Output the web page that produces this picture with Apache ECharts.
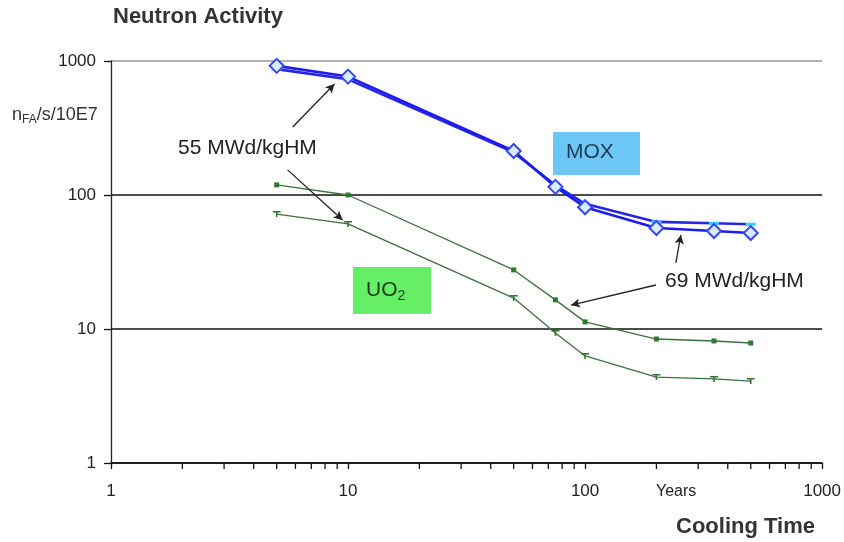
<!DOCTYPE html>
<html>
<head>
<meta charset="utf-8">
<script src="https://cdn.jsdelivr.net/npm/echarts@6/dist/echarts.min.js"></script>
<style>
html,body{margin:0;padding:0;background:#fff;}
#c{width:844px;height:542px;}
</style>
</head>
<body>
<div id="c"></div>
<script>
// ---- data ----
const years = [5, 10, 50, 75, 100, 200, 350, 500];
const moxA = [920, 765, 213, 115, 81, 56.7, 53.9, 52];      // MOX, diamonds
const moxB = [870, 730, 208, 118, 86, 63, 61.5, 60.5];      // MOX, second line
const uo2Upper = [119, 100, 27.6, 16.5, 11.3, 8.42, 8.14, 7.86];
const uo2Lower = [72.1, 60.8, 17.0, 9.34, 6.29, 4.38, 4.24, 4.09];
const minorTicks = [2,3,4,5,6,7,8,9,20,30,40,50,60,70,80,90,200,300,400,500,600,700,800,900];
const xTickLabels = ['1', '10', '100', '1000'];
const yTickLabels = ['1', '10', '100', '1000'];
// annotation arrows, in data coordinates [x, y] -> [x, y]
const arrows55 = [[[5.84, 322], [8.77, 673]], [[5.56, 154], [9.48, 65]]];
const arrows69 = [[[241.6, 31.1], [253.6, 50.3]], [[199, 21.3], [87.3, 15.1]]];

const pair = (ys) => years.map((x, i) => [x, ys[i]]);
const FONT = 'Liberation Sans, Arial, sans-serif';

const chart = echarts.init(document.getElementById('c'), null, {renderer: 'canvas'});

const arrowLines = arrows55.concat(arrows69).map(a => [{coord: a[0]}, {coord: a[1]}]);

chart.setOption({
  animation: false,
  backgroundColor: '#fff',
  grid: {left: 111, right: 21, top: 61, bottom: 79},
  xAxis: {
    type: 'log', logBase: 10, min: 1, max: 1000,
    axisLine: {show: true, lineStyle: {color: '#111', width: 1.5}},
    axisTick: {show: true, length: 6, lineStyle: {color: '#111', width: 1.3}},
    axisLabel: {
      margin: 20, fontFamily: FONT, fontSize: 17, color: '#222',
      formatter: (v) => { const s = String(Math.round(v)); return xTickLabels.indexOf(s) >= 0 ? s : ''; }
    },
    splitLine: {show: false}
  },
  yAxis: {
    type: 'log', logBase: 10, min: 1, max: 1000,
    axisLine: {show: true, lineStyle: {color: '#222', width: 1.3}},
    axisTick: {show: true, length: 7, lineStyle: {color: '#111', width: 1.3}},
    axisLabel: {
      margin: 15, fontFamily: FONT, fontSize: 17, color: '#222',
      formatter: (v) => { const s = String(Math.round(v)); return yTickLabels.indexOf(s) >= 0 ? s : ''; }
    },
    splitLine: {show: true, lineStyle: {color: ['#111', '#111', '#111', '#999'], width: 1.5}}
  },
  series: [
    {
      name: 'minor ticks', type: 'custom', silent: true, z: 5,
      data: minorTicks.map(v => [v, 1]),
      renderItem: (params, api) => {
        const p = api.coord([api.value(0), 1]);
        return {type: 'line', shape: {x1: p[0], y1: p[1], x2: p[0], y2: p[1] + 6},
                style: {stroke: '#111', lineWidth: 1.3}};
      }
    },
    {
      name: 'UO2 upper', type: 'line', data: pair(uo2Upper),
      lineStyle: {color: '#3e6f3e', width: 1.3},
      symbol: 'rect', symbolSize: 5, showSymbol: true,
      itemStyle: {color: '#2c7a2c', borderWidth: 0}, z: 3
    },
    {
      name: 'UO2 lower', type: 'line', data: pair(uo2Lower),
      lineStyle: {color: '#3e6f3e', width: 1.3},
      symbol: 'path://M0,0 L10,0 L10,2 L6,2 L6,8 L4,8 L4,2 L0,2 Z', symbolSize: [8, 6], showSymbol: true,
      itemStyle: {color: '#2c7a2c', borderWidth: 0}, z: 3
    },
    {
      name: 'MOX B', type: 'line', data: pair(moxB),
      lineStyle: {color: '#2626e6', width: 2.6},
      symbol: 'rect', symbolSize: [10, 3], showSymbol: true,
      itemStyle: {color: '#38d0ff', borderWidth: 0}, z: 4
    },
    {
      name: 'MOX A', type: 'line', data: pair(moxA),
      lineStyle: {color: '#1c1cf0', width: 2.6},
      symbol: 'diamond', symbolSize: 14, showSymbol: true,
      itemStyle: {color: '#d8eeff', borderColor: '#3a46ee', borderWidth: 2}, z: 6,
      markLine: {
        silent: true, symbol: ['none', 'arrow'], symbolSize: [7, 9], precision: 4,
        label: {show: false},
        lineStyle: {color: '#222', width: 1.3, type: 'solid'},
        emphasis: {disabled: true},
        data: arrowLines
      }
    }
  ],
  graphic: [
    {type: 'text', left: 113, top: 6, z: 100,
     style: {text: 'Neutron Activity', fontFamily: FONT, fontWeight: 'bold', fontSize: 22, fill: '#333'}},
    {type: 'text', left: 12, top: 106, z: 100,
     style: {text: 'n{s|FA}/s/10E7', fontFamily: FONT, fontSize: 18, fill: '#333',
             rich: {s: {fontSize: 12, fontFamily: FONT, fill: '#333', padding: [9, 0, 0, 0]}}}},
    {type: 'text', left: 178, top: 138, z: 100,
     style: {text: '55 MWd/kgHM', fontFamily: FONT, fontSize: 21, fill: '#222'}},
    {type: 'text', left: 665, top: 271, z: 100,
     style: {text: '69 MWd/kgHM', fontFamily: FONT, fontSize: 21, fill: '#222'}},
    {type: 'rect', shape: {x: 553, y: 132, width: 87, height: 43}, z: 90,
     style: {fill: '#6cc7f7'}},
    {type: 'text', left: 566, top: 142, z: 100,
     style: {text: 'MOX', fontFamily: FONT, fontSize: 21, fill: '#1f3a55'}},
    {type: 'rect', shape: {x: 353, y: 267, width: 78, height: 47}, z: 90,
     style: {fill: '#66ee66'}},
    {type: 'text', left: 366, top: 280, z: 100,
     style: {text: 'UO{s|2}', fontFamily: FONT, fontSize: 21, fill: '#1d3d1d',
             rich: {s: {fontSize: 14, fontFamily: FONT, fill: '#1d3d1d', padding: [11, 0, 0, 0]}}}},
    {type: 'text', left: 656, top: 484, z: 100,
     style: {text: 'Years', fontFamily: FONT, fontSize: 16, fill: '#222'}},
    {type: 'text', left: 676, top: 516, z: 100,
     style: {text: 'Cooling Time', fontFamily: FONT, fontWeight: 'bold', fontSize: 22, fill: '#333'}}
  ]
});
</script>
</body>
</html>
